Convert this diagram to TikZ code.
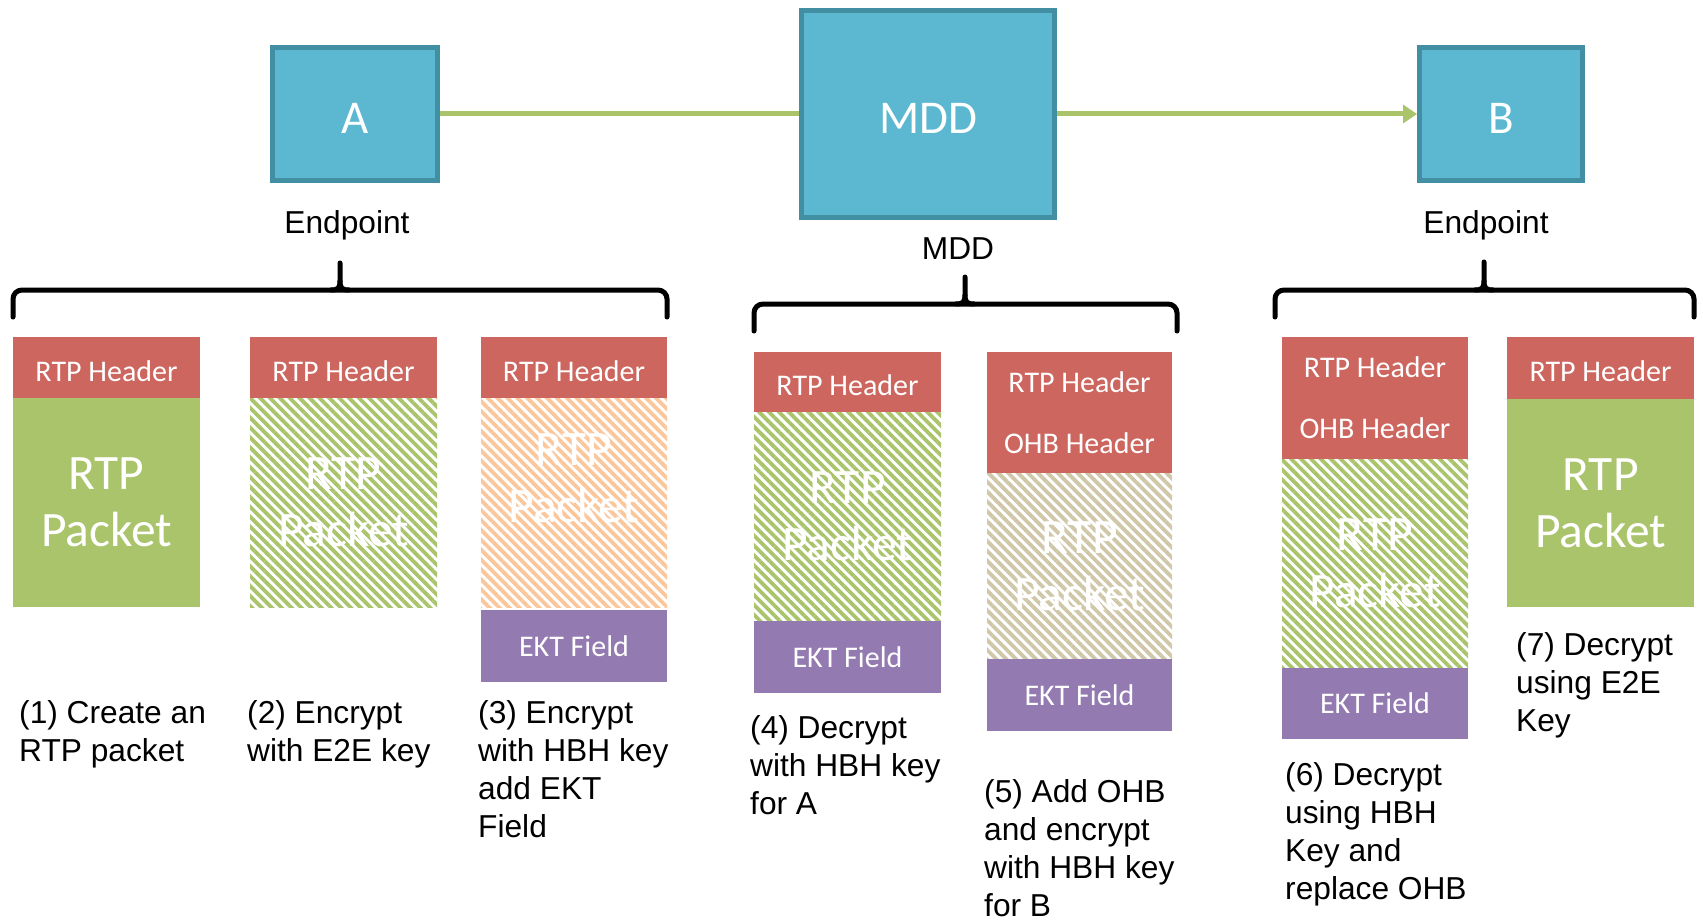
\documentclass[tikz,border=0pt]{standalone}
\usepackage{fontspec}
\setmainfont{Liberation Sans}
\newfontfamily\carl{Carlito}
\usetikzlibrary{arrows.meta,patterns.meta}
\definecolor{boxblue}{HTML}{5BB8D0}
\definecolor{boxedge}{HTML}{428EA2}
\definecolor{hdr}{HTML}{CD665F}
\definecolor{grn}{HTML}{A9C46A}
\definecolor{ekt}{HTML}{937AB1}
\definecolor{org}{HTML}{FCC69B}
\definecolor{beige}{HTML}{CFC7A8}
\newcommand\drawbrace[5]{%
  % #1 left x, #2 right x, #3 y of bar, #4 tip x, #5 tip top y
  \draw[brc,rounded corners=9pt] (#1,#3+27) -- (#1,#3) -- (#2,#3) -- (#2,#3+27);
  \draw[brc] (#4-9,#3) .. controls (#4-2,#3) and (#4,#3-2) .. (#4,#3-9) -- (#4,#5);
  \draw[brc] (#4+9,#3) .. controls (#4+2,#3) and (#4,#3-2) .. (#4,#3-9);
}
\begin{document}
\begin{tikzpicture}[x=1pt,y=-1pt,
  ent/.style={draw=boxedge,fill=boxblue,line width=5pt,text=white,
    font=\carl\fontsize{47}{56}\selectfont,inner sep=0pt,text height=39pt,text depth=0pt},
  lbl/.style={font=\fontsize{31.7}{38}\selectfont,inner sep=0pt},
  stepnote/.style={lbl,anchor=north west,align=left},
  seg/.style={inner sep=0pt,outer sep=0pt,anchor=north west,text=white,
    font=\carl\fontsize{30}{61}\selectfont,align=center},
  hd/.style={seg,fill=hdr},
  hd1/.style={hd,text height=27pt,text depth=0pt},
  ek/.style={seg,fill=ekt},
  pk/.style={seg,fill=grn,font=\carl\fontsize{49.5}{57}\selectfont},
  hgrn/.style={seg,font=\carl\fontsize{49.5}{57}\selectfont,
    pattern={Lines[angle=-45,distance=7pt,line width=3.8pt]},pattern color=grn},
  horg/.style={hgrn,pattern color=org},
  hbei/.style={hgrn,pattern color=beige},
  bigtxt/.style={inner sep=0pt,text=white,align=center,
    font=\carl\fontsize{49.5}{57}\selectfont},
  conn/.style={draw=grn,line width=5pt},
  brc/.style={draw=black,line width=5pt,line cap=round}
]
\fill[white] (0,0) rectangle (1703,920);
\useasboundingbox (0,0) rectangle (1703,920);

% entities
\node[ent,minimum width=165pt,minimum height=133pt] (A) at (355,114) {A};
\node[ent,minimum width=253pt,minimum height=207pt] (MDD) at (928,114) {MDD};
\node[ent,minimum width=163pt,minimum height=133pt] (B) at (1501,114) {B};
\draw[conn] (A) -- (MDD);
\draw[conn,-{Triangle[length=14pt,width=18pt]}] (MDD) -- (B);

\node[lbl] (epA) at (347,225) {Endpoint};
\node[lbl] (mddl) at (958,249) {MDD};
\node[lbl] (epB) at (1486,225) {Endpoint};

% braces
\drawbrace{13}{667}{290}{340}{263}
\drawbrace{754}{1177}{304}{965}{277}
\drawbrace{1275}{1694}{290}{1484}{262}

% column 1
\node[hd1,minimum width=187pt,minimum height=61pt] (h1) at (13,337) {RTP Header};
\node[pk,minimum width=187pt,minimum height=209pt] (p1) at (13,398) {RTP\\Packet};
% column 2
\node[hd1,minimum width=187pt,minimum height=61pt] (h2) at (250,337) {RTP Header};
\node[hgrn,minimum width=187pt,minimum height=209pt] (p2) at (250,398) {RTP\\Packet};
% column 3
\node[hd1,minimum width=186pt,minimum height=61pt] (h3) at (481,337) {RTP Header};
\node[horg,minimum width=186pt,minimum height=209pt] (p3) at (481,398) {};
\node[bigtxt] (t3) at (574,478) {RTP\\Packet};
\node[ek,minimum width=186pt,minimum height=72pt] (e3) at (481,610) {EKT Field};
% column 4
\node[hd1,minimum width=187pt,minimum height=60pt] (h4) at (754,352) {RTP Header};
\node[hgrn,minimum width=187pt,minimum height=209pt] (p4) at (754,412) {RTP\\Packet};
\node[ek,minimum width=187pt,minimum height=72pt] (e4) at (754,621) {EKT Field};
% column 5
\node[hd,minimum width=185pt,minimum height=121pt] (h5) at (987,352) {RTP Header\\OHB Header};
\node[hbei,minimum width=185pt,minimum height=186pt] (p5) at (987,473) {RTP\\Packet};
\node[ek,minimum width=185pt,minimum height=72pt] (e5) at (987,659) {EKT Field};
% column 6
\node[hd,minimum width=186pt,minimum height=122pt] (h6) at (1282,337) {RTP Header\\OHB Header};
\node[hgrn,minimum width=186pt,minimum height=209pt] (p6) at (1282,459) {RTP\\Packet};
\node[ek,minimum width=186pt,minimum height=71pt] (e6) at (1282,668) {EKT Field};
% column 7
\node[hd1,minimum width=187pt,minimum height=62pt] (h7) at (1507,337) {RTP Header};
\node[pk,minimum width=187pt,minimum height=208pt] (p7) at (1507,399) {RTP\\Packet};

% step notes
\node[stepnote] (s1) at (19,700) {(1) Create an\\RTP packet};
\node[stepnote] (s2) at (247,700) {(2) Encrypt\\with E2E key};
\node[stepnote] (s3) at (478,700) {(3) Encrypt\\with HBH key\\add EKT\\Field};
\node[stepnote] (s4) at (750,715) {(4) Decrypt\\with HBH key\\for A};
\node[stepnote] (s5) at (984,779) {(5) Add OHB\\and encrypt\\with HBH key\\for B};
\node[stepnote] (s6) at (1285,762) {(6) Decrypt\\using HBH\\Key and\\replace OHB};
\node[stepnote] (s7) at (1516,632) {(7) Decrypt\\using E2E\\Key};
\end{tikzpicture}
\end{document}
